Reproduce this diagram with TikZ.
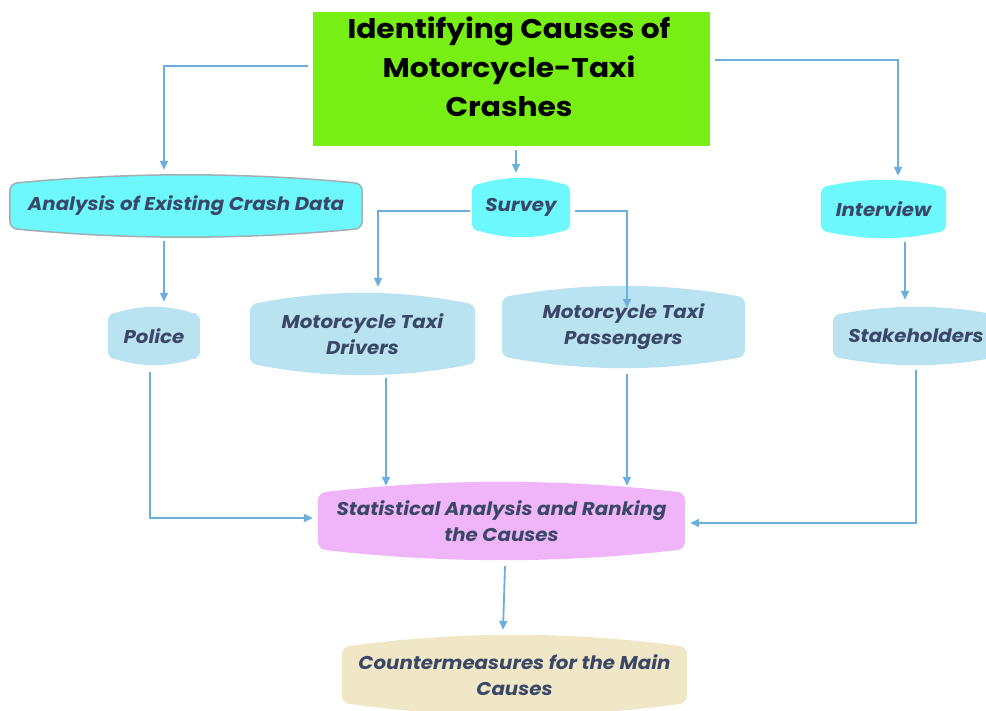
\documentclass[tikz,border=0pt]{standalone}
\usepackage{fontspec}
\setmainfont{Poppins}[FakeStretch=1.07]
\newfontfamily\titlefont{Poppins}[FakeStretch=1.1]
\usetikzlibrary{calc,backgrounds,arrows.meta}

\definecolor{titlegreen}{HTML}{77EF14}
\definecolor{cyanbox}{HTML}{6CF8FD}
\definecolor{bluebox}{HTML}{BAE3F2}
\definecolor{pinkbox}{HTML}{F0B5F9}
\definecolor{beigebox}{HTML}{EFE7C6}
\definecolor{ink}{HTML}{3A4766}
\definecolor{wire}{HTML}{6CAEDC}
\definecolor{rim}{HTML}{A3AEB3}

% Box with straight sides, rounded corners and slightly bowed top and bottom edges.
% #1 node name, #2 path options, #3 bow depth, #4 corner radius
\newcommand\bowbox[4]{%
  \path[#2] let \p1=(#1.south west), \p2=(#1.north east), \n1={\x2-\x1-2*#4} in
    (\x1,{\y1+#3+#4}) -- (\x1,{\y2-#3-#4})
    .. controls (\x1,{\y2-#3-0.45*#4}) and ({\x1+0.45*#4},{\y2-#3}) .. ({\x1+#4},{\y2-#3})
    .. controls ({\x1+#4+\n1/3},{\y2+#3/3}) and ({\x2-#4-\n1/3},{\y2+#3/3}) .. ({\x2-#4},{\y2-#3})
    .. controls ({\x2-0.45*#4},{\y2-#3}) and (\x2,{\y2-#3-0.45*#4}) .. (\x2,{\y2-#3-#4})
    -- (\x2,{\y1+#3+#4})
    .. controls (\x2,{\y1+#3+0.45*#4}) and ({\x2-0.45*#4},{\y1+#3}) .. ({\x2-#4},{\y1+#3})
    .. controls ({\x2-#4-\n1/3},{\y1-#3/3}) and ({\x1+#4+\n1/3},{\y1-#3/3}) .. ({\x1+#4},{\y1+#3})
    .. controls ({\x1+0.45*#4},{\y1+#3}) and (\x1,{\y1+#3+0.45*#4}) .. cycle;}

\begin{document}
\begin{tikzpicture}[x=1pt,y=-1pt,
  lbl/.style={font=\fontsize{18.5}{26}\selectfont\bfseries\itshape, text=ink,
              align=center, inner sep=0pt},
  conn/.style={draw=wire, line width=1.8pt, -{Triangle[length=9pt,width=8pt]}},
]
\useasboundingbox (0,0) rectangle (986,711);
\clip (0,0) rectangle (986,711);

% title block
\node[fill=titlegreen, minimum width=397pt, minimum height=134pt, inner sep=0pt] (title) at (511.5,79) {};
\node[font=\titlefont\fontsize{27}{39}\selectfont\bfseries, align=center, inner sep=0pt] (titletext) at (509,67)
  {Identifying Causes of\\Motorcycle-Taxi\\Crashes};

% method boxes
\node[lbl, minimum width=352pt, minimum height=62pt] (analysis) at (186,206) {Analysis of Existing Crash Data};
\node[lbl, minimum width=98pt, minimum height=59pt] (survey) at (521,207.5) {Survey};
\node[lbl, minimum width=125pt, minimum height=58pt] (interview) at (883.5,209) {Interview};

% data sources
\node[lbl, minimum width=92pt, minimum height=58pt] (police) at (154,336) {Police};
\node[lbl, minimum width=225pt, minimum height=82pt] (drivers) at (362.5,334) {Motorcycle Taxi\\Drivers};
\node[lbl, minimum width=243pt, minimum height=82pt] (passengers) at (623.5,327) {Motorcycle Taxi\\Passengers};
\node[lbl, minimum width=166pt, minimum height=58pt] (stake) at (916,336) {Stakeholders};

% analysis and outcome
\node[lbl, minimum width=367pt, minimum height=78pt] (stat) at (501.5,521) {Statistical Analysis and Ranking\\the Causes};
\node[lbl, minimum width=345pt, minimum height=80pt] (counter) at (514.5,675) {Countermeasures for the Main\\Causes};

\begin{pgfonlayer}{background}
  \bowbox{analysis}{fill=cyanbox, draw=rim, line width=1.5pt}{8pt}{8pt}
  \bowbox{survey}{fill=cyanbox}{6pt}{8pt}
  \bowbox{interview}{fill=cyanbox}{6pt}{8pt}
  \bowbox{police}{fill=bluebox}{6pt}{8pt}
  \bowbox{drivers}{fill=bluebox}{10pt}{9pt}
  \bowbox{passengers}{fill=bluebox}{10pt}{9pt}
  \bowbox{stake}{fill=bluebox}{7pt}{8pt}
  \bowbox{stat}{fill=pinkbox}{10pt}{9pt}
  \bowbox{counter}{fill=beigebox}{11pt}{9pt}
\end{pgfonlayer}

% connectors
\draw[conn] ([xshift=-5pt,yshift=13pt]title.west) -| ([xshift=-22pt,yshift=5pt]analysis.north);
\draw[conn] ([xshift=4.5pt,yshift=-4pt]title.south) -- ([xshift=-5pt,yshift=5pt]survey.north);
\draw[conn] ([xshift=5pt,yshift=19pt]title.east) -| ([xshift=14.5pt,yshift=4pt]interview.north);
\draw[conn] ([xshift=-22pt,yshift=-4pt]analysis.south) -- ([xshift=10pt,yshift=5pt]police.north);
\draw[conn] ([xshift=-2pt,yshift=-3.5pt]survey.west) -| ([xshift=15.5pt,yshift=6pt]drivers.north);
\draw[conn] ([xshift=5pt,yshift=-3.5pt]survey.east) -| ([xshift=3.5pt,yshift=-22pt]passengers.north);
\draw[conn] ([xshift=21.5pt,yshift=-4pt]interview.south) -- ([xshift=-11pt,yshift=7pt]stake.north);
\draw[conn] ([xshift=-4pt,yshift=-7pt]police.south) |- ([xshift=-5pt,yshift=3pt]stat.west);
\draw[conn] ([xshift=23.5pt,yshift=-3pt]drivers.south) -- ([xshift=-115.5pt,yshift=-4pt]stat.north);
\draw[conn] ([xshift=3.5pt,yshift=-6pt]passengers.south) -- ([xshift=125.5pt,yshift=-4pt]stat.north);
\draw[conn] ([yshift=-5pt]stake.south) |- ([xshift=5pt,yshift=-2pt]stat.east);
\draw[conn] ([xshift=3.5pt,yshift=-6pt]stat.south) -- ([xshift=-11.5pt,yshift=5pt]counter.north);
\end{tikzpicture}
\end{document}
